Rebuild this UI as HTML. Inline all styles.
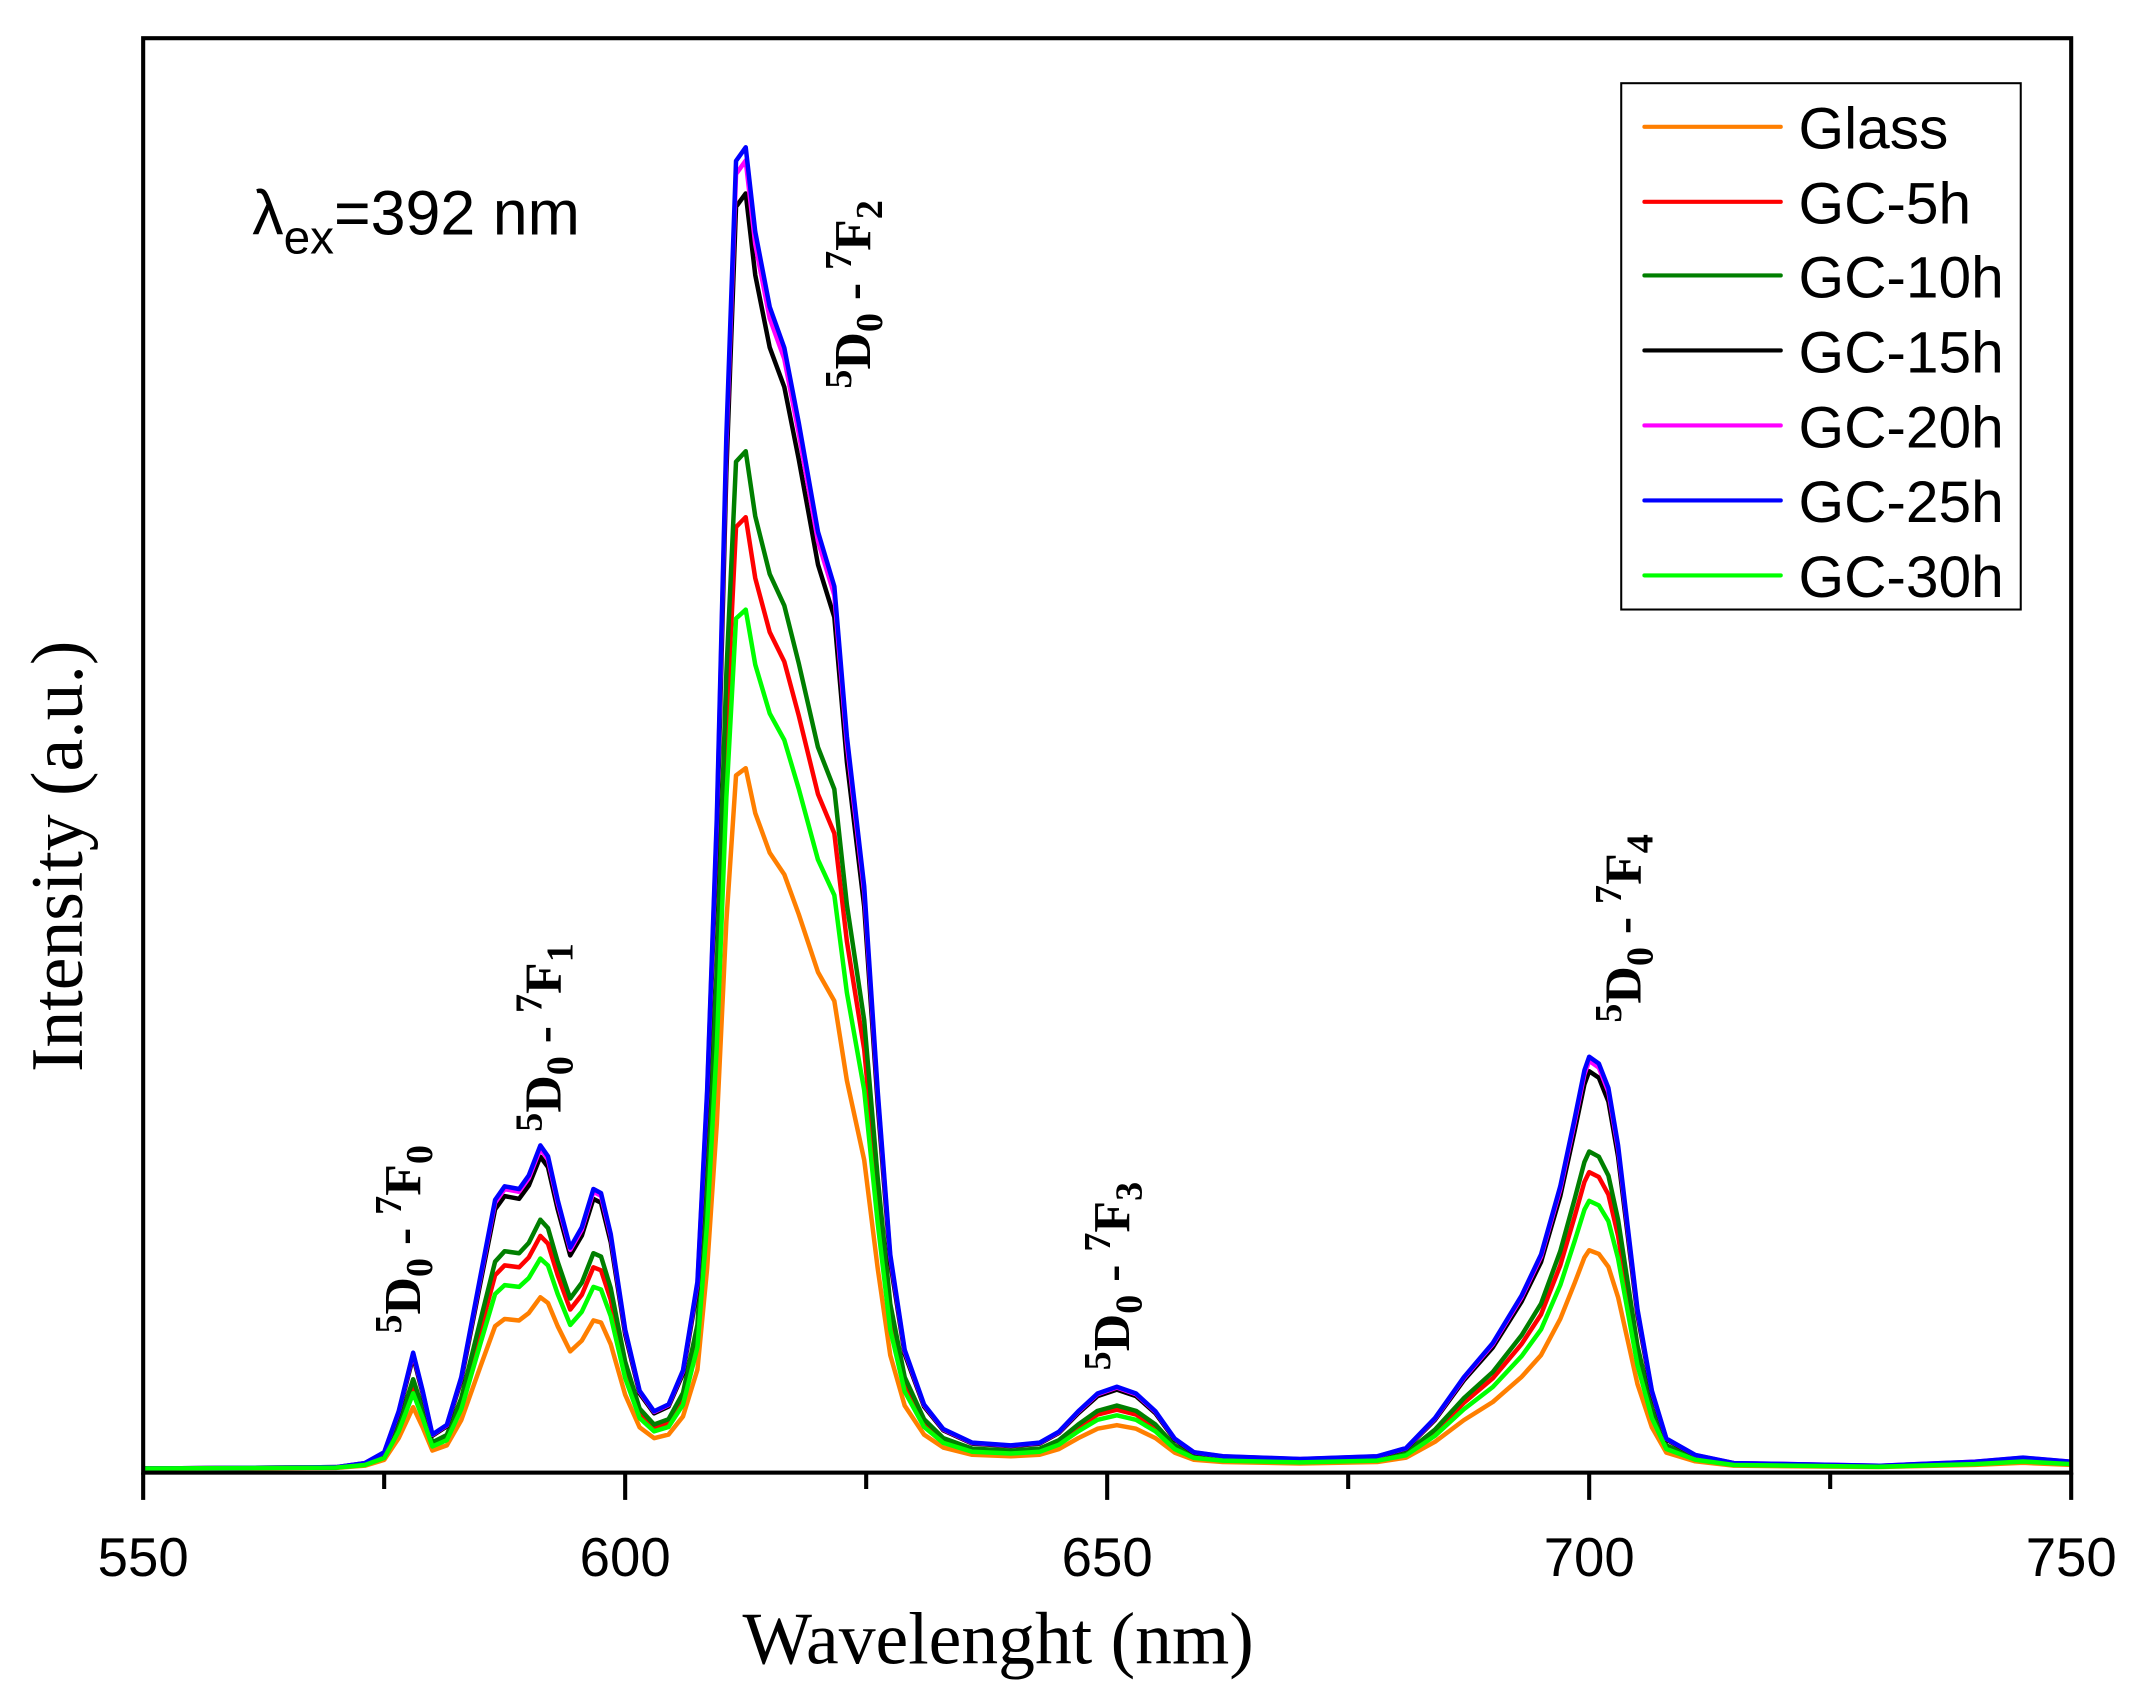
<!DOCTYPE html>
<html><head><meta charset="utf-8"><style>html,body{margin:0;padding:0;background:#fff}svg{display:block}</style></head>
<body>
<svg id="s" width="2138" height="1693" viewBox="0 0 1568 1241.6" xmlns="http://www.w3.org/2000/svg">
<rect width="1568" height="1242" fill="#fff"/>
<g id="curves" fill="none" stroke-width="3.3" stroke-linejoin="round"></g>
<rect x="105" y="28" width="1414" height="1052" fill="none" stroke="#000" stroke-width="3"/>
<g stroke="#000" stroke-width="3">
<line x1="105" y1="1080" x2="105" y2="1100"/><line x1="458.5" y1="1080" x2="458.5" y2="1100"/><line x1="812" y1="1080" x2="812" y2="1100"/><line x1="1165.5" y1="1080" x2="1165.5" y2="1100"/><line x1="1519" y1="1080" x2="1519" y2="1100"/>
<line x1="281.75" y1="1080" x2="281.75" y2="1092"/><line x1="635.25" y1="1080" x2="635.25" y2="1092"/><line x1="988.75" y1="1080" x2="988.75" y2="1092"/><line x1="1342.25" y1="1080" x2="1342.25" y2="1092"/>
</g>
<g font-family="Liberation Sans, sans-serif" font-size="40" text-anchor="middle">
<text x="105" y="1156">550</text><text x="458.5" y="1156">600</text><text x="812" y="1156">650</text><text x="1165.5" y="1156">700</text><text x="1519" y="1156">750</text>
</g>
<text x="732" y="1220" font-family="Liberation Serif, serif" font-size="54" text-anchor="middle">Wavelenght (nm)</text>
<text transform="translate(60,628) rotate(-90)" font-family="Liberation Serif, serif" font-size="54" text-anchor="middle">Intensity (a.u.)</text>
<text x="185" y="172" font-family="Liberation Sans, sans-serif" font-size="46">λ<tspan font-size="35" dy="14">ex</tspan><tspan dy="-14">=392 nm</tspan></text>
<g font-family="Liberation Serif, serif" font-weight="bold" font-size="38">
<text transform="translate(308,978) rotate(-90)"><tspan font-size="28" dy="-14">5</tspan><tspan dy="14">D</tspan><tspan font-size="28" dy="9">0</tspan><tspan dy="-9"> - </tspan><tspan font-size="28" dy="-14">7</tspan><tspan dy="14">F</tspan><tspan font-size="28" dy="9">0</tspan></text>
<text transform="translate(411,830) rotate(-90)"><tspan font-size="28" dy="-14">5</tspan><tspan dy="14">D</tspan><tspan font-size="28" dy="9">0</tspan><tspan dy="-9"> - </tspan><tspan font-size="28" dy="-14">7</tspan><tspan dy="14">F</tspan><tspan font-size="28" dy="9">1</tspan></text>
<text transform="translate(638,285) rotate(-90)"><tspan font-size="28" dy="-14">5</tspan><tspan dy="14">D</tspan><tspan font-size="28" dy="9">0</tspan><tspan dy="-9"> - </tspan><tspan font-size="28" dy="-14">7</tspan><tspan dy="14">F</tspan><tspan font-size="28" dy="9">2</tspan></text>
<text transform="translate(828,1005) rotate(-90)"><tspan font-size="28" dy="-14">5</tspan><tspan dy="14">D</tspan><tspan font-size="28" dy="9">0</tspan><tspan dy="-9"> - </tspan><tspan font-size="28" dy="-14">7</tspan><tspan dy="14">F</tspan><tspan font-size="28" dy="9">3</tspan></text>
<text transform="translate(1203,750) rotate(-90)"><tspan font-size="28" dy="-14">5</tspan><tspan dy="14">D</tspan><tspan font-size="28" dy="9">0</tspan><tspan dy="-9"> - </tspan><tspan font-size="28" dy="-14">7</tspan><tspan dy="14">F</tspan><tspan font-size="28" dy="9">4</tspan></text>
</g>
<rect x="1189" y="61" width="293" height="386" fill="#fff" stroke="#000" stroke-width="1.5"/>
<g stroke-width="3" stroke-linecap="round">
<line x1="1206" y1="93" x2="1306" y2="93" stroke="#ff7f00"/>
<line x1="1206" y1="148" x2="1306" y2="148" stroke="#ff0000"/>
<line x1="1206" y1="202" x2="1306" y2="202" stroke="#007f00"/>
<line x1="1206" y1="257" x2="1306" y2="257" stroke="#000"/>
<line x1="1206" y1="312" x2="1306" y2="312" stroke="#ff00ff"/>
<line x1="1206" y1="367" x2="1306" y2="367" stroke="#0000ff"/>
<line x1="1206" y1="422" x2="1306" y2="422" stroke="#00ff00"/>
</g>
<g font-family="Liberation Sans, sans-serif" font-size="43">
<text x="1319" y="109">Glass</text><text x="1319" y="164">GC-5h</text><text x="1319" y="218">GC-10h</text><text x="1319" y="273">GC-15h</text><text x="1319" y="328">GC-20h</text><text x="1319" y="383">GC-25h</text><text x="1319" y="438">GC-30h</text>
</g>
<script>
var P=[[550,1077],[570,1076],[573,1073],[575,1065],[576.5,1035],[578,992],[579,1020],[580,1052],[581.5,1045],[583,1010],[585,935],[586.5,880],[587.5,870],[589,872],[590,862],[591.2,840],[592,848],[593,880],[594.3,915],[595.5,900],[596.7,872],[597.5,875],[598.5,905],[600,975],[601.5,1020],[603,1035],[604.5,1030],[606,1005],[607.5,940],[608.5,800],[609.5,600],[610.5,320],[611.5,118],[612.5,108],[613.5,170],[615,225],[616.5,255],[618,310],[620,390],[621.7,430],[623,540],[624.8,650],[626.2,800],[627.5,920],[629,990],[631,1030],[633,1048],[636,1058],[640,1060],[643,1058],[645,1050],[647,1035],[649,1022],[651,1017],[653,1022],[655,1035],[657,1055],[659,1065],[662,1068],[670,1070],[678,1068],[681,1062],[684,1040],[687,1010],[690,985],[693,950],[695,920],[697,870],[698.5,820],[699.5,785],[700,775],[701,780],[702,798],[703,840],[704,900],[705,960],[706.5,1020],[708,1055],[711,1067],[715,1073],[730,1075],[740,1072],[745,1069],[750,1072]];
var S=[["#ff7f00",0.53],["#ff0000",0.72],["#007f00",0.77],["#000",0.965],["#ff00ff",0.99],["#0000ff",1],["#00ff00",0.65]];
var g=document.getElementById("curves"),ns="http://www.w3.org/2000/svg";
S.forEach(function(s){var d="";P.forEach(function(p,i){var x=105+(p[0]-550)*7.07,y=1077-(1077-p[1])*s[1];d+=(i?"L":"M")+x.toFixed(1)+","+y.toFixed(1);});
var e=document.createElementNS(ns,"path");e.setAttribute("d",d);e.setAttribute("stroke",s[0]);g.appendChild(e);});
</script>
</svg>
</body></html>
